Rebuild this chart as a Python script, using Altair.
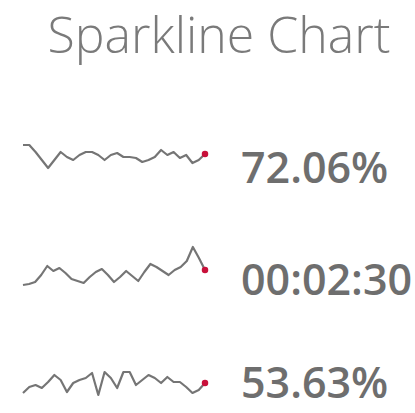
import altair as alt
import pandas as pd

# Chart heading and the headline figure shown beside each sparkline
title_text = "Sparkline Chart"
labels = ["72.06%", "00:02:30", "53.63%"]

# Sparkline series (one value per period)
series_rate = [25, 25, 18, 10, 2, 10, 18, 13, 10, 15, 18, 18, 15, 10, 15, 17, 13, 13,
               12, 8, 10, 13, 20, 15, 18, 12, 15, 7, 10, 16]
series_duration = [5, 6, 8, 15, 24, 19, 22, 17, 11, 9, 7, 13, 18, 21, 15, 8, 13, 19,
                   14, 9, 18, 26, 23, 19, 15, 20, 23, 29, 43, 32, 20]
series_share = [7, 13, 15, 12, 18, 25, 20, 8, 17, 20, 22, 27, 5, 28, 22, 12, 28, 28,
                15, 20, 25, 22, 17, 23, 18, 18, 13, 7, 10, 17]

# Layout of each row: vertical pixel band for the line, and label baseline
row_bands = [(168, 145), (285, 247), (395, 372)]
label_baselines = [183, 295, 398]
line_x_range = [23, 205]

LINE_COLOR = "#666666"
DOT_COLOR = "#c8103a"
TEXT_COLOR = "#6e6e6e"

layers = []
for series, band, label, base in zip(
    [series_rate, series_duration, series_share], row_bands, labels, label_baselines
):
    df = pd.DataFrame({"i": range(len(series)), "v": series})
    n = len(series)
    xs = alt.Scale(domain=[0, n - 1], range=line_x_range)
    ys = alt.Scale(domain=[min(series), max(series)], range=list(band))
    line = alt.Chart(df).mark_line(
        color=LINE_COLOR, strokeWidth=2.2, strokeJoin="round", opacity=0.9
    ).encode(
        x=alt.X("i:Q", scale=xs, axis=None),
        y=alt.Y("v:Q", scale=ys, axis=None),
    )
    dot = alt.Chart(df).transform_filter(
        alt.datum.i == n - 1
    ).mark_point(filled=True, color=DOT_COLOR, size=42, opacity=1).encode(
        x=alt.X("i:Q", scale=xs, axis=None),
        y=alt.Y("v:Q", scale=ys, axis=None),
    )
    text = alt.Chart(pd.DataFrame({"label": [label]})).mark_text(
        align="left", baseline="alphabetic", font="Open Sans", fontSize=43,
        fontWeight=600, color=TEXT_COLOR,
    ).encode(
        text="label:N",
        x=alt.value(241),
        y=alt.value(base),
    )
    layers += [line, dot, text]

heading = alt.Chart(pd.DataFrame({"t": [title_text]})).mark_text(
    align="center", baseline="alphabetic", font="Open Sans", fontSize=50,
    fontWeight=300, color="#7a7a7a",
).encode(text="t:N", x=alt.value(219), y=alt.value(53))

chart = alt.layer(*layers, heading).resolve_scale(
    x="independent", y="independent"
).properties(
    width=415, height=413, padding=0, autosize=alt.AutoSizeParams(type="none")
).configure_view(stroke=None)

chart.save("out.html", embed_options={"renderer": "svg", "actions": False})
